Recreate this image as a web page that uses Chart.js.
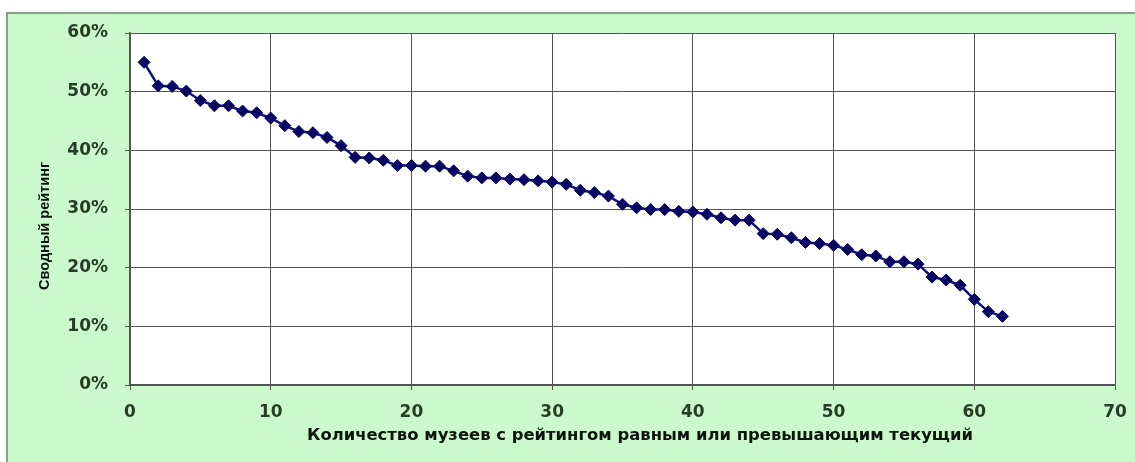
<!DOCTYPE html>
<html>
<head>
<meta charset="utf-8">
<script src="https://cdn.jsdelivr.net/npm/chart.js@4"></script>
<style>
  body { margin: 0; background: #ffffff; }
  #wrap { width: 1135px; height: 462px; }
</style>
</head>
<body>
<div id="wrap"><canvas id="grafico" width="1135" height="462"></canvas></div>
<script>
// Сводный рейтинг музеев
var muzei = [];
for (var i = 1; i <= 62; i++) { muzei.push(i); }
var reiting = [
  55.0, 51.0, 50.9, 50.1, 48.5, 47.6, 47.6, 46.7, 46.4, 45.5,
  44.2, 43.2, 43.0, 42.2, 40.8, 38.8, 38.7, 38.3, 37.4, 37.4,
  37.3, 37.3, 36.5, 35.6, 35.3, 35.3, 35.1, 35.0, 34.8, 34.6,
  34.2, 33.2, 32.8, 32.2, 30.8, 30.2, 29.9, 29.9, 29.6, 29.5,
  29.1, 28.5, 28.1, 28.1, 25.8, 25.7, 25.1, 24.3, 24.1, 23.8,
  23.1, 22.2, 22.0, 21.0, 21.0, 20.6, 18.4, 17.9, 17.0, 14.6,
  12.5, 11.7
];
var tituloX = 'Количество музеев с рейтингом равным или превышающим текущий';
var tituloY = 'Сводный рейтинг';

var puntos = muzei.map(function (m, i) { return { x: m, y: reiting[i] }; });

// fondo verde y titulos de ejes
var fondo = {
  id: 'fondo',
  beforeDraw: function (chart) {
    var ctx = chart.ctx;
    var a = chart.chartArea;
    ctx.save();
    ctx.fillStyle = '#ffffff';
    ctx.fillRect(0, 0, chart.width, chart.height);
    ctx.fillStyle = '#ccf9cc';
    ctx.fillRect(7, 13, chart.width - 7, chart.height - 13);
    ctx.strokeStyle = '#86a386';
    ctx.lineWidth = 2;
    ctx.beginPath();
    ctx.moveTo(7, chart.height);
    ctx.lineTo(7, 13);
    ctx.lineTo(chart.width, 13);
    ctx.stroke();
    ctx.fillStyle = '#ffffff';
    ctx.fillRect(a.left, a.top, a.right - a.left, a.bottom - a.top);
    ctx.restore();
  },
  afterDraw: function (chart) {
    var ctx = chart.ctx;
    ctx.save();
    ctx.fillStyle = '#0d140d';
    ctx.textAlign = 'center';
    ctx.textBaseline = 'middle';
    ctx.font = 'bold 15px "DejaVu Sans"';
    var w = ctx.measureText(tituloX).width;
    ctx.translate(640, 436);
    ctx.scale(666 / w, 1);
    ctx.fillText(tituloX, 0, 0);
    ctx.restore();

    ctx.save();
    ctx.fillStyle = '#0d140d';
    ctx.textAlign = 'center';
    ctx.textBaseline = 'middle';
    ctx.font = 'bold 15px "Liberation Sans"';
    var w2 = ctx.measureText(tituloY).width;
    ctx.translate(45, 226);
    ctx.rotate(-Math.PI / 2);
    ctx.scale(128 / w2, 1);
    ctx.fillText(tituloY, 0, 0);
    ctx.restore();
  }
};

var ctx = document.getElementById('grafico').getContext('2d');
var myChart = new Chart(ctx, {
  type: 'scatter',
  data: {
    datasets: [{
      data: puntos,
      showLine: true,
      borderColor: '#0e0e80',
      borderWidth: 2.5,
      pointStyle: 'rectRot',
      pointRadius: 6,
      pointBackgroundColor: '#060660',
      pointBorderColor: '#060660',
      pointBorderWidth: 1
    }]
  },
  options: {
    responsive: false,
    animation: false,
    layout: { padding: { left: 0, top: 33, right: 20, bottom: 0 } },
    plugins: { legend: { display: false }, tooltip: { enabled: false } },
    scales: {
      x: {
        type: 'linear',
        min: 0,
        max: 70,
        afterFit: function (scale) {
          scale.height = 77;
          scale.paddingLeft = 0;
          scale.paddingRight = 0;
        },
        ticks: {
          stepSize: 10,
          padding: 12,
          color: '#263d26',
          font: { family: '"DejaVu Sans"', size: 17, weight: 'bold' }
        },
        grid: { color: '#555555', lineWidth: 1, tickLength: 5, tickColor: '#555555' },
        border: { color: '#555555', width: 1.5 }
      },
      y: {
        min: 0,
        max: 60,
        afterFit: function (scale) { scale.width = 130; },
        ticks: {
          stepSize: 10,
          padding: 17,
          color: '#263d26',
          font: { family: '"DejaVu Sans"', size: 17, weight: 'bold' },
          callback: function (v) { return v + '%'; }
        },
        grid: { color: '#555555', lineWidth: 1, tickLength: 5, tickColor: '#555555' },
        border: { color: '#555555', width: 1.5 }
      }
    }
  },
  plugins: [fondo]
});
</script>
</body>
</html>
